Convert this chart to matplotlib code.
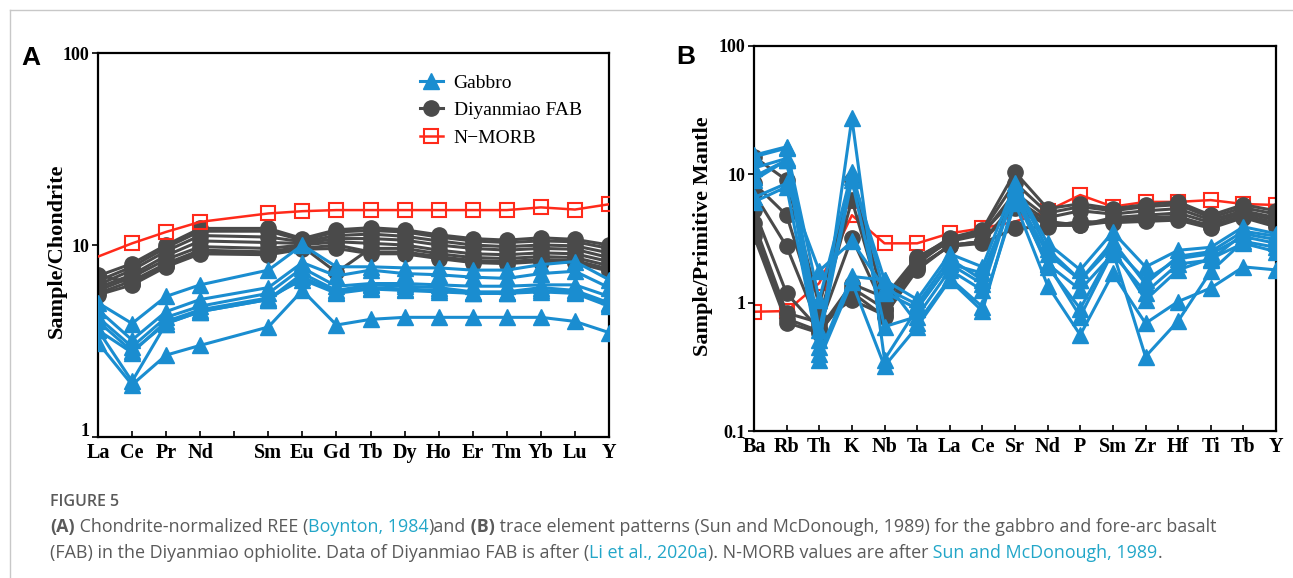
import matplotlib.pyplot as plt
from matplotlib.lines import Line2D
from matplotlib.transforms import ScaledTranslation

# ---- panel A: chondrite-normalized REE ----
ree = ['La', 'Ce', 'Pr', 'Nd', 'Pm', 'Sm', 'Eu', 'Gd', 'Tb', 'Dy', 'Ho', 'Er', 'Tm', 'Yb', 'Lu', 'Y']
ree_used = ['La', 'Ce', 'Pr', 'Nd', 'Sm', 'Eu', 'Gd', 'Tb', 'Dy', 'Ho', 'Er', 'Tm', 'Yb', 'Lu', 'Y']

ree_nmorb = [8.7, 10.2, 11.7, 13.2, 14.6, 15.0, 15.2, 15.2, 15.2, 15.2, 15.2, 15.2, 15.7, 15.3, 16.3]

ree_fab = [
    [6.9, 8.0, 10.0, 12.2, 12.2, 10.8, 12.0, 12.3, 12.0, 11.3, 10.8, 10.6, 10.9, 10.7, 10.0],
    [6.5, 7.7, 9.7, 11.8, 11.8, 10.6, 11.7, 11.9, 11.7, 11.0, 10.5, 10.3, 10.5, 10.4, 9.6],
    [6.2, 7.4, 9.3, 11.2, 11.0, 10.4, 11.2, 11.4, 11.1, 10.5, 10.0, 9.8, 10.0, 9.9, 9.1],
    [6.0, 7.0, 8.8, 10.5, 10.3, 10.2, 10.8, 10.8, 10.6, 10.0, 9.6, 9.4, 9.6, 9.5, 8.6],
    [5.8, 6.8, 8.4, 9.8, 9.6, 10.0, 10.4, 10.2, 10.0, 9.4, 9.0, 8.9, 9.1, 9.0, 8.2],
    [5.6, 6.5, 8.0, 9.4, 9.2, 9.8, 7.2, 9.6, 9.6, 9.0, 8.6, 8.5, 8.7, 8.6, 7.8],
    [7.0, 6.3, 7.8, 9.1, 9.0, 9.6, 10.0, 9.2, 9.2, 8.7, 8.3, 8.2, 8.4, 8.3, 7.5],
    [5.5, 6.2, 7.7, 9.0, 8.9, 9.5, 9.6, 9.0, 9.0, 8.5, 8.1, 8.0, 8.2, 8.1, 7.3],
]

ree_gabbro = [
    [5.0, 3.9, 5.4, 6.2, 7.4, 10.0, 7.7, 7.7, 7.6, 7.6, 7.4, 7.4, 7.9, 8.2, 6.6],
    [4.6, 3.2, 4.5, 5.2, 6.0, 8.1, 6.9, 7.4, 7.1, 7.0, 6.8, 6.7, 7.1, 7.3, 6.0],
    [4.2, 2.95, 4.2, 4.8, 5.6, 7.6, 6.1, 6.3, 6.3, 6.2, 6.1, 6.1, 6.2, 6.2, 5.4],
    [4.0, 2.8, 3.9, 4.5, 5.2, 7.1, 5.8, 6.2, 6.1, 6.0, 5.7, 5.7, 6.0, 5.8, 5.0],
    [3.6, 2.75, 4.0, 4.6, 5.3, 6.6, 5.6, 5.9, 5.8, 5.7, 5.6, 5.6, 5.7, 5.6, 4.8],
    [3.6, 1.95, 3.9, 4.5, 5.2, 6.8, 5.7, 6.0, 5.9, 5.8, 5.6, 5.6, 5.8, 5.7, 4.9],
    [3.1, 1.87, 2.67, 3.0, 3.74, 5.8, 3.83, 4.1, 4.2, 4.2, 4.2, 4.2, 4.2, 4.0, 3.5],
]

# ---- panel B: primitive-mantle-normalized trace elements ----
trace = ['Ba', 'Rb', 'Th', 'K', 'Nb', 'Ta', 'La', 'Ce', 'Sr', 'Nd', 'P', 'Sm', 'Zr', 'Hf', 'Ti', 'Tb', 'Y']

trace_nmorb = [0.85, 0.86, 1.42, 4.8, 2.9, 2.9, 3.47, 3.8, 4.28, 5.2, 6.9, 5.6, 6.1, 6.1, 6.3, 5.87, 5.77]

trace_fab = [
    [13.7, 9.0, 0.95, 9.0, 1.0, 2.2, 3.2, 3.7, 10.4, 5.4, 5.9, 5.4, 5.8, 6.1, 4.8, 5.8, 5.2],
    [8.5, 4.8, 0.75, 6.3, 0.85, 2.0, 3.1, 3.6, 8.6, 5.0, 5.6, 5.2, 5.6, 5.8, 4.6, 5.5, 4.9],
    [7.1, 2.74, 0.65, 3.2, 0.9, 2.1, 3.0, 3.4, 7.2, 4.6, 5.2, 4.9, 5.2, 5.4, 4.4, 5.2, 4.6],
    [5.3, 1.18, 0.62, 1.4, 1.1, 2.27, 3.1, 3.5, 6.5, 4.3, 4.0, 4.6, 4.8, 5.0, 4.2, 5.0, 4.4],
    [4.2, 0.83, 0.7, 1.05, 0.8, 1.8, 2.8, 3.0, 5.5, 4.0, 4.0, 4.3, 4.4, 4.6, 4.0, 4.8, 4.2],
    [3.7, 0.75, 0.6, 1.2, 0.78, 1.9, 2.75, 2.9, 3.8, 3.9, 4.3, 4.2, 4.3, 4.4, 3.8, 4.6, 3.9],
    [3.3, 0.7, 0.58, 1.3, 0.9, 1.85, 2.8, 3.0, 6.0, 4.1, 4.1, 4.4, 4.6, 4.7, 3.9, 4.7, 4.0],
]

trace_gabbro = [
    [9.6, 12.9, 0.45, 27.3, 0.36, 0.9, 2.0, 1.7, 6.9, 2.4, 1.5, 2.75, 1.5, 2.2, 2.4, 3.27, 2.9],
    [14.1, 16.4, 0.61, 9.6, 1.5, 1.06, 2.4, 1.9, 8.5, 2.9, 1.8, 3.55, 1.9, 2.56, 2.7, 3.9, 3.45],
    [11.2, 13.3, 0.51, 9.0, 0.65, 0.78, 1.8, 1.25, 7.8, 2.0, 1.26, 2.4, 1.2, 2.0, 2.15, 3.45, 3.1],
    [6.6, 8.5, 1.77, 3.0, 1.3, 0.97, 2.2, 1.5, 7.2, 1.9, 0.9, 2.6, 1.05, 1.8, 2.2, 2.9, 2.5],
    [6.1, 8.0, 0.40, 1.6, 1.5, 0.69, 1.55, 0.93, 6.0, 1.36, 0.56, 1.69, 0.69, 1.02, 1.3, 1.9, 1.8],
    [9.0, 12.9, 0.36, 1.45, 0.32, 0.65, 1.5, 0.86, 6.6, 2.0, 0.78, 2.5, 0.38, 0.72, 1.75, 3.0, 2.7],
    [13.7, 16.0, 1.05, 10.5, 1.2, 0.9, 2.0, 1.4, 8.0, 2.6, 1.5, 3.0, 1.4, 2.3, 2.5, 3.6, 3.3],
]

BLUE = '#1A8DD0'
GREY = '#4A4A4A'
RED = '#FF2A1A'
SERIF = 'Liberation Serif'

fig = plt.figure(figsize=(12.93, 5.78), dpi=100)
W, H = 1293, 578


def px_axes(left, top, right, bottom):
    return fig.add_axes([left / W, 1 - bottom / H, (right - left) / W, (bottom - top) / H])


def style_axes(ax, labels, yticks, yticklabels):
    ax.set_yscale('log')
    ax.set_xticks(range(len(labels)))
    ax.set_xticklabels(labels, fontfamily=SERIF, fontweight='bold', fontsize=14.5)
    ax.set_yticks(yticks)
    ax.set_yticklabels(yticklabels, fontfamily=SERIF, fontweight='bold', fontsize=13)
    ax.yaxis.set_minor_locator(plt.NullLocator())
    ax.tick_params(axis='x', direction='in', length=4, width=1.2, pad=4)
    ax.tick_params(axis='y', direction='out', length=4, width=1.2, pad=2)
    for s in ax.spines.values():
        s.set_linewidth(1.6)


gab_kw = dict(color=BLUE, lw=2.2, marker='^', ms=11, zorder=3)
fab_kw = dict(color=GREY, lw=2.2, marker='o', ms=11, zorder=2)
nm_kw = dict(color=RED, lw=1.8, marker='s', ms=10.5, mfc='none', mec=RED, mew=1.5)

# Panel A
axA = px_axes(98, 53, 609, 437)
xa = [ree.index(e) for e in ree_used]
for s in ree_fab:
    axA.plot(xa, s, **fab_kw)
for s in ree_gabbro:
    axA.plot(xa, s, **gab_kw)
axA.plot(xa, ree_nmorb, markevery=list(range(1, len(xa))), zorder=4, **nm_kw)
style_axes(axA, [e if e != 'Pm' else '' for e in ree], [1, 10, 100], ['1', '10', '100'])
axA.set_xlim(0, len(ree) - 1)
axA.set_ylim(1, 100)
axA.set_ylabel('Sample/Chondrite', fontfamily=SERIF, fontweight='bold', fontsize=16)
axA.yaxis.set_label_coords(-0.062, 0.486)
# the "1" label sits a little above the bottom tick in the original
for lab in axA.get_yticklabels():
    if lab.get_text() == '1':
        lab.set_transform(lab.get_transform() + ScaledTranslation(0, 7 / 100, fig.dpi_scale_trans))

handles = [
    Line2D([], [], **{k: v for k, v in gab_kw.items() if k != 'zorder'}),
    Line2D([], [], **{k: v for k, v in fab_kw.items() if k != 'zorder'}),
    Line2D([], [], **nm_kw),
]
axA.legend(handles, ['Gabbro', 'Diyanmiao FAB', 'N\u2212MORB'], loc='upper left',
           bbox_to_anchor=(0.595, 0.99), frameon=False, handlelength=1.2,
           handletextpad=0.55, labelspacing=0.5, prop={'family': SERIF, 'size': 14})

# Panel B
axB = px_axes(754, 46, 1276, 431)
xb = list(range(len(trace)))
axB.plot(xb, trace_nmorb, zorder=1, **nm_kw)
for s in trace_fab:
    axB.plot(xb, s, **fab_kw)
for s in trace_gabbro:
    axB.plot(xb, s, **gab_kw)
style_axes(axB, trace, [0.1, 1, 10, 100], ['0.1', '1', '10', '100'])
axB.set_xlim(0, len(trace) - 1)
axB.set_ylim(0.1, 100)
axB.set_ylabel('Sample/Primitive Mantle', fontfamily=SERIF, fontweight='bold', fontsize=16)
axB.yaxis.set_label_coords(-0.079, 0.505)

# panel letters
fig.text(31 / W, 1 - 58 / H, 'A', fontfamily='Liberation Sans', fontweight='bold',
         fontsize=19, ha='center', va='center')
fig.text(686 / W, 1 - 57 / H, 'B', fontfamily='Liberation Sans', fontweight='bold',
         fontsize=19, ha='center', va='center')

# page frame lines
fig.add_artist(Line2D([10 / W, 10 / W], [0, 1 - 10 / H], color='#c8c8c8', lw=1))
fig.add_artist(Line2D([10 / W, 1], [1 - 10 / H, 1 - 10 / H], color='#c8c8c8', lw=1))

# caption
CAP = '#5a5a5a'
LINK = '#22A6C8'
CAPFONT = 'Open Sans'
CAPSIZE = 12.9
fig.text(50 / W, 1 - 502 / H, 'FIGURE 5', fontfamily=CAPFONT, fontsize=11.5,
         color=CAP, va='center', fontweight='semibold')

renderer = fig.canvas.get_renderer()


def draw_runs(x_px, y_px, runs):
    x = x_px
    for text, color, weight in runs:
        t = fig.text(x / W, 1 - y_px / H, text, fontfamily=CAPFONT, fontsize=CAPSIZE,
                     color=color, fontweight=weight, va='center')
        x += t.get_window_extent(renderer).width


draw_runs(50, 527, [
    ('(A)', CAP, 'bold'),
    (' Chondrite-normalized REE (', CAP, 'normal'),
    ('Boynton, 1984', LINK, 'normal'),
    (')and', CAP, 'normal'),
    (' (B)', CAP, 'bold'),
    (' trace element patterns (Sun and McDonough, 1989) for the gabbro and fore-arc basalt', CAP, 'normal'),
])
draw_runs(50, 553, [
    ('(FAB) in the Diyanmiao ophiolite. Data of Diyanmiao FAB is after (', CAP, 'normal'),
    ('Li et al., 2020a', LINK, 'normal'),
    ('). N-MORB values are after', CAP, 'normal'),
    (' Sun and McDonough, 1989', LINK, 'normal'),
    ('.', CAP, 'normal'),
])

fig.savefig('out.png', dpi=100)
